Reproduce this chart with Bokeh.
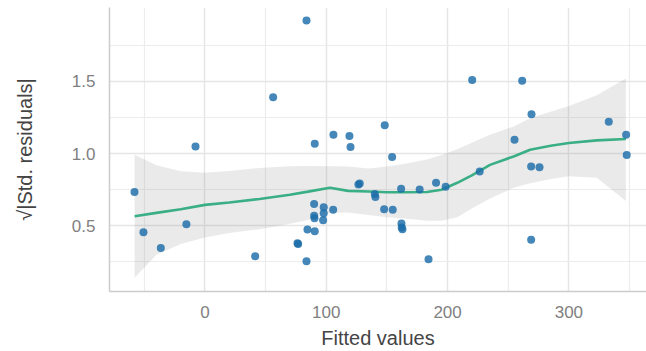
from bokeh.plotting import figure
from bokeh.models import Range1d, FixedTicker
from bokeh.embed import file_html
from bokeh.resources import INLINE

# Scatter points: fitted values vs sqrt(|std. residuals|)
fitted = [-58.1, -50.7, -36.4, -15.3, -7.8, 41.4, 56.2, 76.3, 76.8, 83.7,
          83.7, 84.5, 90.0, 90.0, 90.3, 90.5, 90.5, 97.9, 97.9, 97.4,
          105.7, 105.9, 119.1, 120.0, 126.5, 127.6, 140.0, 140.5, 147.7, 148.2,
          154.3, 154.8, 161.7, 162.0, 162.2, 162.8, 177.0, 184.3, 190.5, 198.4,
          220.3, 226.5, 255.2, 261.5, 268.9, 268.9, 269.2, 275.8, 332.9, 347.2,
          347.7]
std_res = [0.734, 0.456, 0.346, 0.511, 1.050, 0.289, 1.390, 0.379, 0.375, 1.922,
           0.255, 0.475, 0.651, 0.569, 0.553, 0.463, 1.069, 0.628, 0.587, 0.539,
           0.612, 1.131, 1.122, 1.046, 0.787, 0.794, 0.720, 0.700, 0.615, 1.197,
           0.977, 0.612, 0.757, 0.516, 0.489, 0.477, 0.752, 0.268, 0.798, 0.771,
           1.509, 0.876, 1.096, 1.504, 0.910, 0.403, 1.273, 0.906, 1.220, 1.131,
           0.991]

# Loess smooth and its confidence band
smooth_x = [-58, -40, -20, 0, 20, 45, 70, 85, 103, 118, 135, 150, 165, 183,
            195, 208, 220, 235, 255, 268, 285, 300, 323, 347]
smooth_y = [0.567, 0.590, 0.615, 0.645, 0.662, 0.686, 0.715, 0.737, 0.764, 0.742,
            0.738, 0.733, 0.733, 0.734, 0.750, 0.798, 0.850, 0.922, 0.982, 1.027,
            1.055, 1.074, 1.092, 1.101]
smooth_upper = [0.993, 0.920, 0.878, 0.868, 0.880, 0.901, 0.912, 0.914, 0.913, 0.910,
                0.897, 0.910, 0.930, 0.959, 0.990, 1.030, 1.075, 1.130, 1.190, 1.245,
                1.290, 1.330, 1.405, 1.520]
smooth_lower = [0.140, 0.300, 0.374, 0.420, 0.450, 0.477, 0.515, 0.540, 0.590, 0.592,
                0.575, 0.560, 0.550, 0.535, 0.535, 0.560, 0.620, 0.690, 0.765, 0.795,
                0.825, 0.844, 0.833, 0.672]

x_ticks = [0, 100, 200, 300]
x_minor = [-50, 50, 150, 250, 350]
y_ticks = [0.5, 1.0, 1.5]
y_minor = [0.25, 0.75, 1.25, 1.75]
y_tick_labels = {0.5: "0.5", 1.0: "1.0", 1.5: "1.5"}

p = figure(width=646, height=351, output_backend="svg", toolbar_location=None,
           x_range=Range1d(-78.7, 364.0), y_range=Range1d(0.0454, 2.0117),
           min_border_left=109, min_border_right=0, min_border_top=7,
           min_border_bottom=58)
p.outline_line_color = None
p.background_fill_color = "white"

p.xaxis.ticker = FixedTicker(ticks=x_ticks, minor_ticks=x_minor)
p.yaxis.ticker = FixedTicker(ticks=y_ticks, minor_ticks=y_minor)
p.yaxis.major_label_overrides = y_tick_labels

for ax in (p.xaxis, p.yaxis):
    ax.axis_line_color = "#cccccc"
    ax.axis_line_width = 1.5
    ax.major_tick_line_color = None
    ax.minor_tick_line_color = None
    ax.major_label_text_font = "Liberation Sans"
    ax.major_label_text_font_size = "17px"
    ax.major_label_text_color = "#808080"
    ax.axis_label_text_font = "Liberation Sans"
    ax.axis_label_text_font_size = "20px"
    ax.axis_label_text_font_style = "normal"
    ax.axis_label_text_color = "#444444"

p.xaxis.axis_label = "Fitted values"
p.xaxis.major_label_standoff = 8
p.xaxis.axis_label_standoff = 6
p.yaxis.axis_label = "√|Std. residuals|"
p.yaxis.major_label_standoff = 8
p.yaxis.axis_label_standoff = 33

for g in (p.xgrid, p.ygrid):
    g.grid_line_color = "#e5e5e5"
    g.grid_line_width = 1.5
    g.minor_grid_line_color = "#ececec"
    g.minor_grid_line_width = 1.2

p.varea(x=smooth_x, y1=smooth_lower, y2=smooth_upper, fill_color="#808080",
        fill_alpha=0.17)
p.line(smooth_x, smooth_y, line_color="#3aaf85", line_width=2.6)
p.scatter(fitted, std_res, size=8, fill_color="#1b6ca8", fill_alpha=0.82,
          line_color=None)

open("out.html", "w").write(file_html(p, INLINE))
